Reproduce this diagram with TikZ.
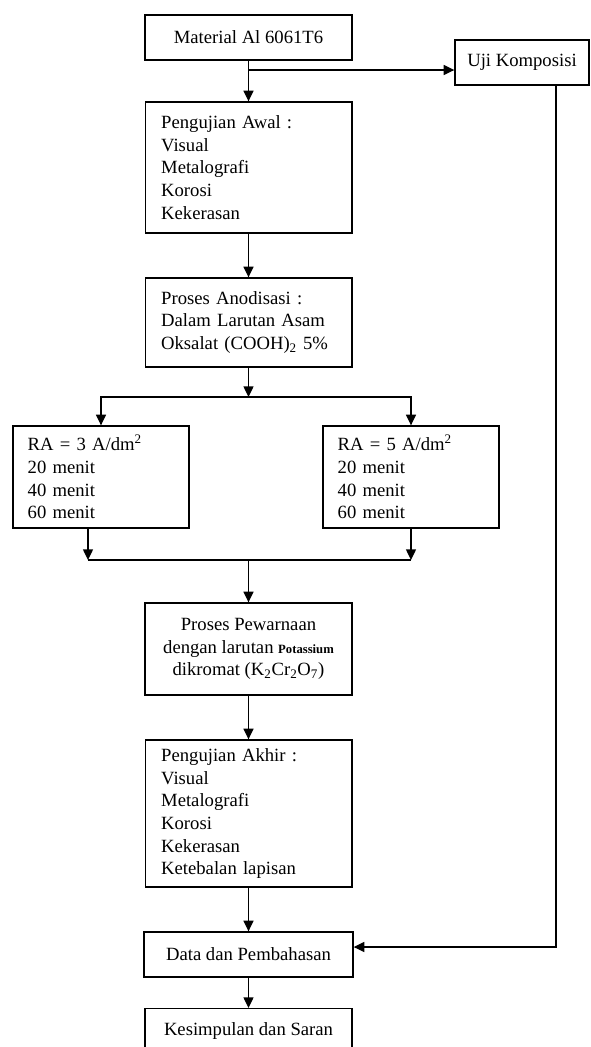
\documentclass[tikz,border=0pt]{standalone}
\usepackage{fontspec}
\setmainfont{Liberation Serif}
\usetikzlibrary{arrows.meta}

\tikzset{every picture/.style={line width=0.75pt}}
\tikzset{
	box/.style={draw, line width=1pt, inner ysep=2pt, font=\fontsize{14}{17}\selectfont},
	boxc/.style={box, align=center, inner xsep=3pt},
	boxl/.style={box, align=left, inner xsep=12pt, text width=131pt},
	arr/.style={line width=1pt, -{Triangle[length=8pt,width=7.5pt]}},
}

\begin{document}
\begin{tikzpicture}[x=0.75pt,y=0.75pt,yscale=-1,xscale=1]
	\useasboundingbox (0,0) rectangle (591,1047);

	%Boxes
	\node[boxc, minimum width=155.25pt, minimum height=33.75pt] (bahan) at (248.5,37.5) {Material Al 6061T6};
	\node[boxc, minimum width=100.5pt, minimum height=33.75pt] (uji) at (522,62.5) {Uji Komposisi};
	\node[boxl, minimum height=98.25pt] (awal) at (248.5,167.5) {Pengujian Awal :\\Visual\\Metalografi\\Korosi\\Kekerasan};
	\node[boxl, minimum height=66.75pt] (anod) at (248.5,322.5) {Proses Anodisasi :\\Dalam Larutan Asam\\Oksalat (COOH)\textsubscript{2} 5\%};
	\node[boxl, text width=110pt, inner xsep=11pt, minimum height=76.5pt] (ra3) at (101,477) {RA = 3 A/dm\textsuperscript{2}\\20 menit\\40 menit\\60 menit};
	\node[boxl, text width=110pt, inner xsep=11pt, minimum height=76.5pt] (ra5) at (411,477) {RA = 5 A/dm\textsuperscript{2}\\20 menit\\40 menit\\60 menit};
	\node[boxc, minimum width=155.25pt, minimum height=69pt] (warna) at (248.5,649) {Proses Pewarnaan\\dengan larutan {\fontsize{9.5}{10}\selectfont\bfseries Potassium}\\dikromat (K\textsubscript{2}Cr\textsubscript{2}O\textsubscript{7})};
	\node[boxl, minimum height=110.25pt] (akhir) at (248.5,813.5) {Pengujian Akhir :\\Visual\\Metalografi\\Korosi\\Kekerasan\\Ketebalan lapisan};
	\node[boxc, minimum width=156.75pt, minimum height=33.75pt] (data) at (248.5,954.5) {Data dan Pembahasan};
	\node[boxc, minimum width=155.25pt, minimum height=33pt, anchor=north] (simpul) at (248.5,1008) {Kesimpulan dan Saran};

	%Junction points
	\coordinate (pisah) at (250,70);
	\coordinate (cabang) at (248.5,397);
	\coordinate (kiri) at (88,560);
	\coordinate (gabung) at (248.5,560);
	\coordinate (balik) at (556,947);

	%Arrows
	\draw[arr] (bahan) -- (awal);
	\draw[arr] (pisah -| bahan) -- (pisah -| uji.west);
	\draw[arr] (awal) -- (anod);
	\draw[arr] (anod) -- (cabang);
	\draw[arr] (cabang) -| (ra3);
	\draw[arr] (cabang) -| (ra5);
	\draw[arr] (kiri |- ra3.south) -- (kiri);
	\draw[arr] (ra5) -- (ra5 |- gabung);
	\draw[line width=1pt] (kiri) -- (ra5 |- gabung);
	\draw[arr] (gabung) -- (warna);
	\draw[arr] (warna) -- (akhir);
	\draw[arr] (akhir) -- (data);
	\draw[arr] (data) -- (simpul);
	\draw[arr] (uji.south -| balik) -- (balik) -- (balik -| data.east);

\end{tikzpicture}
\end{document}
